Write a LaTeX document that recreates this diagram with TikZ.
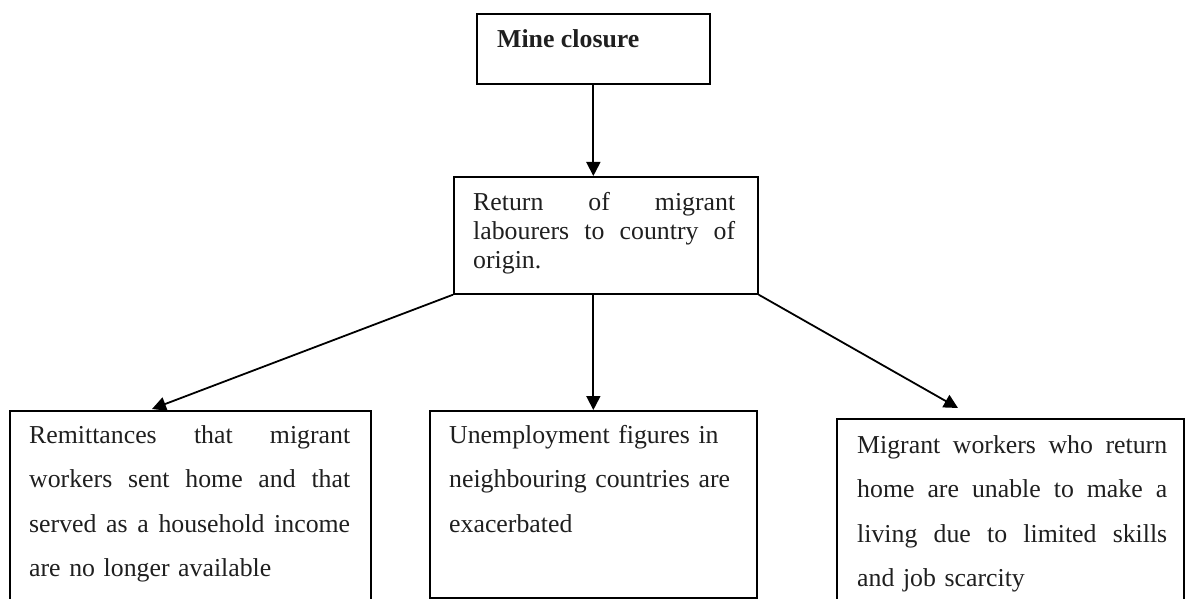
\documentclass[tikz,border=0pt]{standalone}
\usepackage{fontspec}
\setmainfont{Liberation Serif}
\usetikzlibrary{arrows.meta}
% one line of a justified paragraph, spread to the given width
% (the normal stretchable interword space is restored inside the box)
\newcommand\fillline[2]{\makebox[#1][s]{\spaceskip=0pt\xspaceskip=0pt #2}}
\begin{document}
\begin{tikzpicture}[x=1pt,y=-1pt,
  box/.style={draw, line width=1.7pt, inner sep=0pt, anchor=north west},
  txt/.style={inner sep=0pt, anchor=base west, align=left, text=black!88},
  wide/.style={font=\fontsize{25.8}{44.6}\selectfont},
  tight/.style={font=\fontsize{25.8}{29}\selectfont},
  link/.style={line width=1.8pt, -{Triangle[length=14pt,width=14pt]}}]
\useasboundingbox (0,0) rectangle (1186,599);
\clip (0,0) rectangle (1186,599);

% boxes
\node[box, minimum width=233pt, minimum height=70pt]  (mine) at (476,13)  {};
\node[box, minimum width=304pt, minimum height=117pt] (ret)  at (453,176) {};
\node[box, minimum width=361pt, minimum height=220pt] (rem)  at (9,410)   {};
\node[box, minimum width=327pt, minimum height=187pt] (une)  at (429,410) {};
\node[box, minimum width=347pt, minimum height=220pt] (mig)  at (836,418) {};

% texts
\node[txt, font=\bfseries\fontsize{25.8}{30}\selectfont] (minet) at (497,48) {Mine closure};
\node[txt, tight, text width=264pt] (rett) at (473,210)
  {\fillline{262pt}{Return of migrant}\\\fillline{262pt}{labourers to country of}\\origin.};
\node[txt, wide, text width=323pt] (remt) at (29,443)
  {\fillline{321pt}{Remittances that migrant}\\\fillline{321pt}{workers sent home and that}\\
   \fillline{321pt}{served as a household income}\\are no longer available};
\node[txt, wide, text width=300pt] (unet) at (449,443)
  {Unemployment figures in\\neighbouring countries are\\exacerbated};
\node[txt, wide, text width=312pt] (migt) at (857,453)
  {\fillline{310pt}{Migrant workers who return}\\\fillline{310pt}{home are unable to make a}\\
   \fillline{310pt}{living due to limited skills}\\and job scarcity};

% connectors
\coordinate (remtip) at (152,409);
\coordinate (migtip) at (958,408);
\draw[link] (mine.south) -- (mine.south |- ret.north);
\draw[link] (ret.south west) -- (remtip);
\draw[link] (une.north |- ret.south) -- (une.north);
\draw[link] (ret.south east) -- (migtip);
\end{tikzpicture}
\end{document}
